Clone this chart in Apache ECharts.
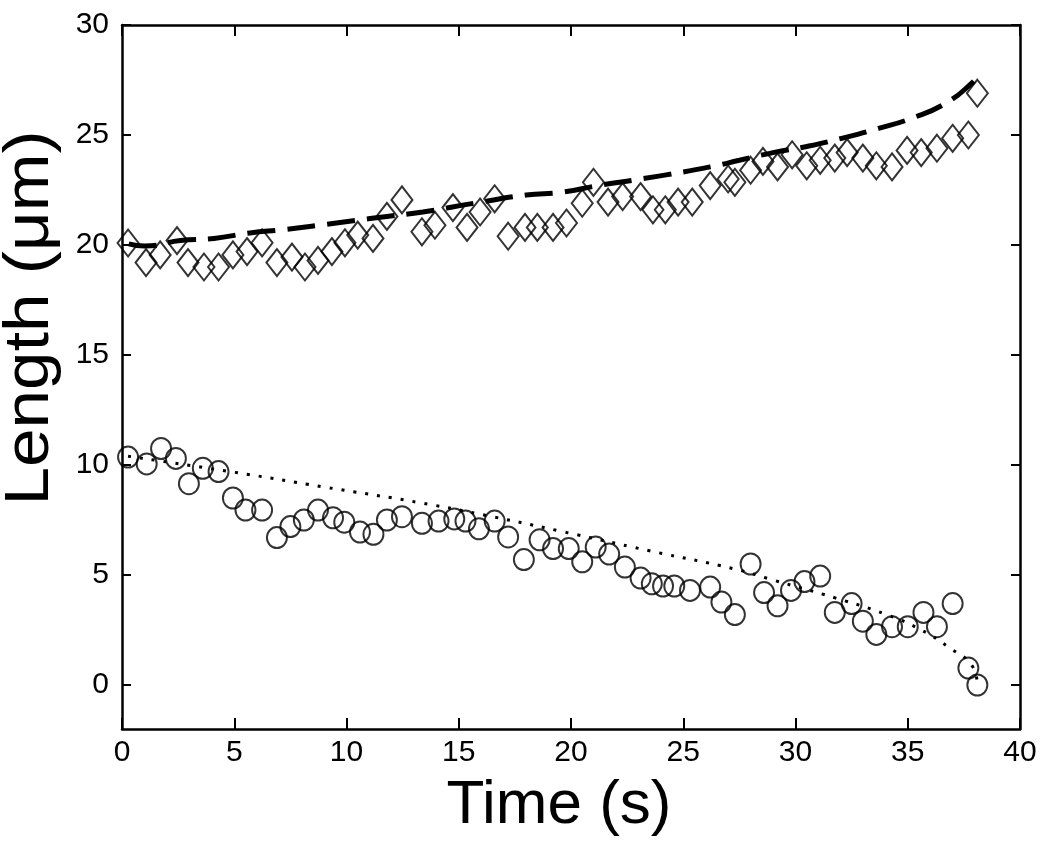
<!DOCTYPE html>
<html><head><meta charset="utf-8">
<script src="https://cdn.jsdelivr.net/npm/echarts@6/dist/echarts.min.js"></script>
<style>html,body{margin:0;padding:0;background:#fff}#c{width:1050px;height:850px}</style>
</head><body><div id="c"></div>
<script>
const diamondT = [0.27,1.07,1.7,2.45,2.94,3.65,4.3,4.94,5.57,6.24,6.9,7.57,8.15,8.73,9.35,9.93,10.5,11.18,11.8,12.47,13.36,13.94,14.74,15.37,15.95,16.6,17.2,17.95,18.5,19.2,19.8,20.5,21.0,21.65,22.3,23.1,23.65,24.2,24.77,25.4,26.2,27.0,27.3,28.0,28.55,29.2,29.85,30.5,31.1,31.75,32.3,33.0,33.6,34.3,34.97,35.6,36.3,37.0,37.7,38.1];
const diamondV = [20.09,19.2,19.55,20.2,19.2,19.0,19.0,19.55,19.7,20.1,19.2,19.45,19.0,19.3,19.7,20.1,20.45,20.3,21.3,22.05,20.6,20.9,21.7,20.8,21.5,22.1,20.4,20.8,20.8,20.8,21.0,21.9,22.85,21.95,22.2,22.2,21.6,21.6,21.95,21.95,22.7,23.0,22.85,23.4,23.8,23.55,24.1,23.6,23.85,23.95,24.2,23.95,23.6,23.55,24.3,24.2,24.4,24.85,25.0,26.9];
const circleT = [0.27,1.1,1.74,2.4,2.98,3.6,4.3,4.94,5.5,6.24,6.9,7.5,8.1,8.73,9.4,9.9,10.6,11.2,11.8,12.47,13.36,14.1,14.8,15.3,15.9,16.6,17.2,17.9,18.6,19.2,19.9,20.5,21.1,21.7,22.4,23.1,23.6,24.1,24.6,25.3,26.2,26.7,27.3,28.0,28.6,29.2,29.8,30.4,31.1,31.75,32.5,33.0,33.6,34.3,35.0,35.7,36.3,37.0,37.7,38.1];
const circleV = [10.36,10.05,10.75,10.3,9.15,9.85,9.7,8.5,7.95,7.95,6.7,7.2,7.5,7.95,7.6,7.4,6.95,6.85,7.5,7.65,7.35,7.45,7.55,7.45,7.1,7.45,6.73,5.7,6.6,6.2,6.2,5.6,6.27,5.95,5.36,4.86,4.6,4.5,4.5,4.3,4.45,3.77,3.2,5.5,4.2,3.6,4.3,4.7,4.95,3.3,3.7,2.9,2.3,2.65,2.65,3.3,2.65,3.7,0.77,0.0];
const dashT = [0.3,1.0,2.6,4.1,5.7,7.2,8.8,10.3,11.8,13.4,15.7,18.0,19.6,21.2,22.8,24.3,26.2,27.5,29.0,30.6,32.1,33.7,35.2,36.7,37.9,38.1];
const dashV = [20.05,19.95,20.2,20.3,20.55,20.7,20.9,21.1,21.3,21.5,21.9,22.27,22.4,22.7,22.95,23.2,23.55,23.85,24.2,24.5,24.86,25.3,25.77,26.45,27.4,27.7];
const dotT = [0.27,4.94,9.0,13.36,16.5,19.5,23.5,27.3,29.0,31.8,34.1,35.6,36.8,37.9,38.1];
const dotV = [10.4,9.68,9.0,8.27,7.65,7.0,6.1,5.27,4.77,3.95,3.18,2.5,1.73,0.82,0.0];
const yTicks = [0,5,10,15,20,25,30];
const xTitle = 'Time (s)';
const yTitle = 'Length (\u03bcm)';

const zip = (a,b)=>a.map((t,i)=>[t,b[i]]);
const font = 'Liberation Sans, Arial, sans-serif';
const chart = echarts.init(document.getElementById('c'));
const axisLineStyle = {color:'#000', width:2.5};
const tickStyle = {color:'#000', width:2};
chart.setOption({
  backgroundColor:'#fff',
  animation:false,
  grid:{left:122, right:30, top:25, bottom:121},
  graphic:[
    {type:'text', x:559, y:806, style:{text:xTitle, font:'62px Liberation Sans, Arial, sans-serif', fill:'#000', textAlign:'center', textVerticalAlign:'middle'}},
    {type:'text', x:31, y:318, rotation:Math.PI/2, scaleX:1.1,
     style:{text:yTitle, font:'63px Liberation Sans, Arial, sans-serif', fill:'#000', textAlign:'center', textVerticalAlign:'middle'}}
  ],
  xAxis:[{
    type:'value', min:0, max:40, interval:5,
    position:'bottom',
    axisLine:{show:true, onZero:false, lineStyle:axisLineStyle},
    axisTick:{show:true, inside:true, length:11, lineStyle:tickStyle},
    axisLabel:{fontSize:30, fontFamily:font, color:'#000', margin:9},
    splitLine:{show:false}
  },{
    type:'value', min:0, max:40, interval:5, position:'top',
    axisLine:{show:true, onZero:false, lineStyle:axisLineStyle},
    axisTick:{show:true, inside:true, length:11, lineStyle:tickStyle},
    axisLabel:{show:false}, splitLine:{show:false}
  }],
  yAxis:[{
    type:'value', min:-2, max:30,
    position:'left',
    axisLine:{show:true, onZero:false, lineStyle:axisLineStyle},
    axisTick:{show:true, inside:true, length:9, lineStyle:tickStyle, customValues:yTicks},
    axisLabel:{fontSize:30, fontFamily:font, color:'#000', margin:13, customValues:yTicks},
    splitLine:{show:false}
  },{
    type:'value', min:-2, max:30, position:'right',
    axisLine:{show:true, onZero:false, lineStyle:axisLineStyle},
    axisTick:{show:true, inside:true, length:9, lineStyle:tickStyle, customValues:yTicks},
    axisLabel:{show:false, customValues:yTicks}, splitLine:{show:false}
  }],
  series:[
    {type:'scatter', data:zip(diamondT, diamondV), symbol:'diamond', symbolSize:[21,27],
     itemStyle:{color:'rgba(0,0,0,0)', borderColor:'#000', borderWidth:2}},
    {type:'scatter', data:zip(circleT, circleV), symbol:'circle', symbolSize:[20,21],
     itemStyle:{color:'rgba(0,0,0,0)', borderColor:'#000', borderWidth:2}},
    {type:'line', data:zip(dashT, dashV), smooth:true, showSymbol:false, symbol:'none',
     lineStyle:{color:'#000', width:5, type:[28,12]}},
    {type:'line', data:zip(dotT, dotV), smooth:true, showSymbol:false, symbol:'none',
     lineStyle:{color:'#000', width:3, type:[3,9]}}
  ]
});
</script></body></html>
